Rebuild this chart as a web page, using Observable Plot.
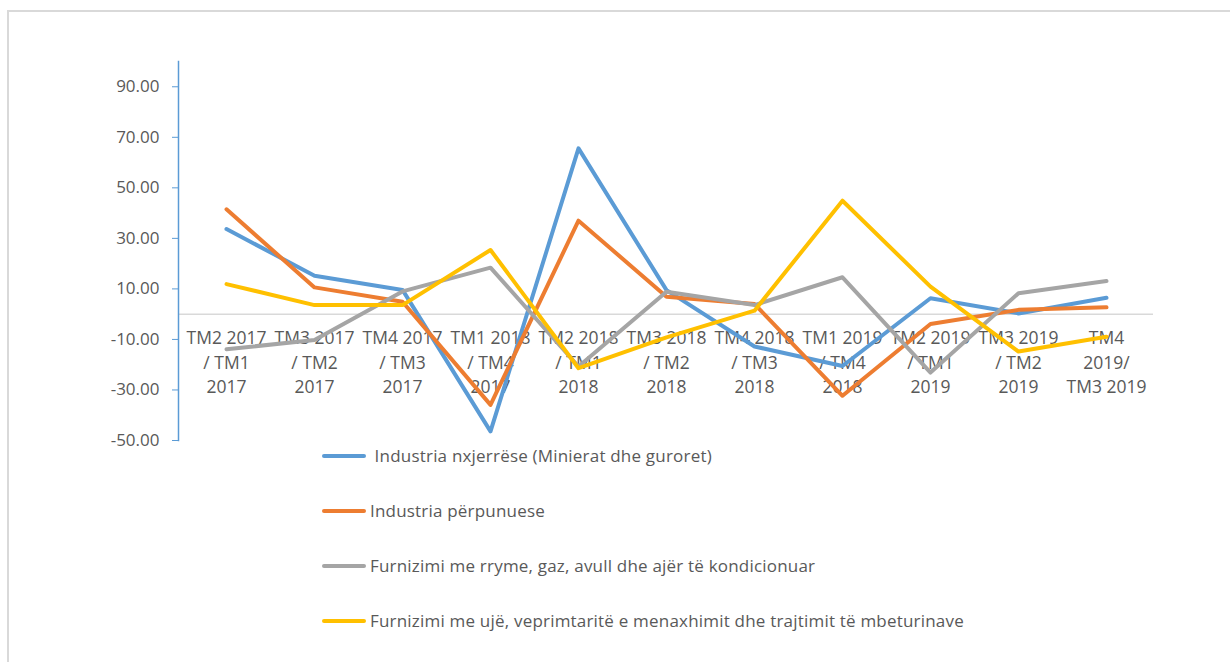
<!DOCTYPE html>
<html>
<head>
<meta charset="utf-8">
<script src="https://cdn.jsdelivr.net/npm/d3@7"></script>
<script src="https://cdn.jsdelivr.net/npm/@observablehq/plot@0.6"></script>
<style>
  html, body { margin: 0; padding: 0; background: #fff; width: 1230px; height: 662px; overflow: hidden; font-family: "Open Sans", sans-serif; }
  #wrap { position: relative; width: 1230px; height: 662px; }
  #border { position: absolute; left: 7px; top: 10px; width: 1400px; height: 800px; border-top: 2px solid #d9d9d9; border-left: 2px solid #d9d9d9; pointer-events: none; }
  #chart { position: absolute; left: 0; top: 0; }
  #legend { position: absolute; left: 322px; top: 428px; }
  .row { height: 55px; display: flex; align-items: center; color: #595959; font-size: 17px; letter-spacing: 0.2px; white-space: pre; }
  .sw { width: 44px; height: 4px; border-radius: 2px; margin-right: 4px; }
</style>
</head>
<body>
<div id="wrap">
  <div id="border"></div>
  <div id="chart"></div>
  <div id="legend"></div>
</div>
<script>
const categories = [
  "TM2 2017\n/ TM1\n2017",
  "TM3 2017\n/ TM2\n2017",
  "TM4 2017\n/ TM3\n2017",
  "TM1 2018\n/ TM4\n2017",
  "TM2 2018\n/ TM1\n2018",
  "TM3 2018\n/ TM2\n2018",
  "TM4 2018\n/ TM3\n2018",
  "TM1 2019\n/ TM4\n2018",
  "TM2 2019\n/ TM1\n2019",
  "TM3 2019\n/ TM2\n2019",
  "TM4\n2019/\nTM3 2019"
];
const seriesNames = [
  "Industria nxjerrëse (Minierat dhe guroret)",
  "Industria përpunuese",
  "Furnizimi me rryme, gaz, avull dhe ajër të kondicionuar",
  "Furnizimi me ujë, veprimtaritë e menaxhimit dhe trajtimit të mbeturinave"
];
const legendLabels = [
  " Industria nxjerrëse (Minierat dhe guroret)",
  "Industria përpunuese",
  "Furnizimi me rryme, gaz, avull dhe ajër të kondicionuar",
  "Furnizimi me ujë, veprimtaritë e menaxhimit dhe trajtimit të mbeturinave"
];
const seriesColors = ["#5b9bd5", "#ed7d31", "#a5a5a5", "#ffc000"];
const mining = [33.7, 15.2, 9.6, -46.4, 65.6, 9.5, -12.8, -20.5, 6.3, 0.3, 6.5];
const manufacturing = [41.5, 10.6, 4.9, -35.9, 37.0, 6.9, 4.0, -32.3, -3.9, 1.7, 2.7];
const electricity = [-13.9, -10.2, 9.0, 18.4, -20.7, 8.9, 3.6, 14.6, -23.1, 8.3, 13.1];
const water = [11.9, 3.6, 3.6, 25.4, -21.4, -9.2, 1.4, 44.9, 10.9, -14.8, -8.9];
const yTicks = [-50, -30, -10, 10, 30, 50, 70, 90];
const yDomain = [-50, 100];

const allSeries = [mining, manufacturing, electricity, water];
const rows = [];
allSeries.forEach((vals, si) => {
  vals.forEach((v, i) => rows.push({cat: categories[i], series: seriesNames[si], value: v}));
});

const textColor = "#595959";
const chart = Plot.plot({
  width: 1230,
  height: 460,
  marginLeft: 178,
  marginRight: 77,
  marginTop: 61,
  marginBottom: 20,
  style: {fontFamily: "'Open Sans', sans-serif", fontSize: "17px", color: textColor, background: "transparent"},
  x: {type: "point", domain: categories, padding: 0.5, axis: null},
  y: {domain: yDomain, axis: null},
  color: {domain: seriesNames, range: seriesColors},
  marks: [
    Plot.ruleY([0], {stroke: "#d9d9d9", strokeWidth: 1.5}),
    Plot.frame({anchor: "left", stroke: "#5b9bd5", strokeWidth: 1.5}),
    Plot.axisY({ticks: yTicks, tickFormat: d => d.toFixed(2), tickSize: 6, tickPadding: 13,
      stroke: "#5b9bd5", fill: textColor, fontSize: 17, label: null}),
    Plot.text(categories, {x: d => d, y: () => 0, text: d => d, lineAnchor: "top", dy: 13,
      lineHeight: 1.39, fill: textColor, fontSize: 17.5}),
    Plot.line(rows, {x: "cat", y: "value", z: "series", stroke: "series",
      strokeWidth: 4, strokeLinejoin: "round", strokeLinecap: "round"})
  ]
});
document.getElementById("chart").appendChild(chart);

const legend = document.getElementById("legend");
seriesNames.forEach((name, i) => {
  const row = document.createElement("div");
  row.className = "row";
  const sw = document.createElement("div");
  sw.className = "sw";
  sw.style.background = seriesColors[i];
  const t = document.createElement("span");
  t.textContent = legendLabels[i];
  row.appendChild(sw);
  row.appendChild(t);
  legend.appendChild(row);
});
</script>
</body>
</html>
